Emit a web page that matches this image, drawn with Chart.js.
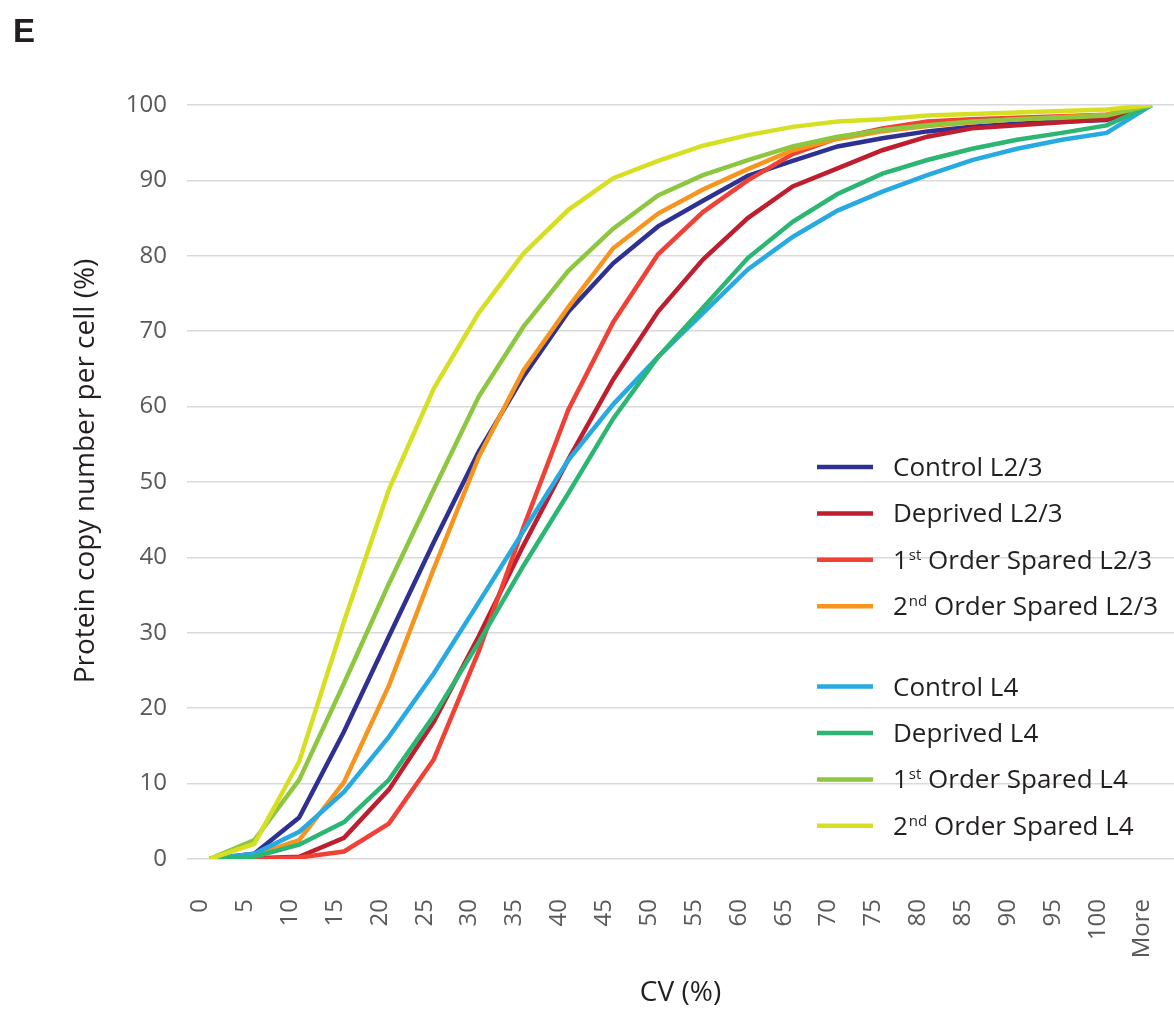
<!DOCTYPE html>
<html>
<head>
<meta charset="utf-8">
<script src="https://cdn.jsdelivr.net/npm/chart.js@4/dist/chart.umd.min.js"></script>
<style>
  html, body { margin: 0; padding: 0; background: #ffffff; }
  #wrap { position: relative; width: 1174px; height: 1013px; }
  canvas { display: block; }
</style>
</head>
<body>
<div id="wrap"><canvas id="c" width="1174" height="1013"></canvas></div>
<script>
// ---------- data ----------
const categories = ['0','5','10','15','20','25','30','35','40','45','50','55','60','65','70','75','80','85','90','95','100','More'];

const controlL23   = [0, 0.7, 5.5, 16.9, 29.5, 42.0, 54.0, 64.0, 72.6, 79.0, 83.9, 87.3, 90.6, 92.6, 94.5, 95.6, 96.5, 97.1, 97.5, 97.8, 98.0, 100];
const deprivedL23  = [0, 0.1, 0.3, 2.8, 9.2, 18.2, 29.5, 41.6, 53.0, 63.6, 72.6, 79.5, 85.0, 89.2, 91.6, 94.0, 95.8, 96.9, 97.3, 97.7, 98.1, 100];
const first23      = [0, 0.0, 0.2, 1.0, 4.7, 13.2, 27.5, 44.0, 59.6, 71.2, 80.2, 85.8, 90.0, 93.5, 95.6, 96.9, 97.8, 98.1, 98.3, 98.5, 98.7, 100];
const second23     = [0, 0.5, 2.5, 10.2, 23.0, 38.5, 53.3, 64.8, 73.2, 81.0, 85.6, 88.8, 91.5, 94.0, 95.5, 96.5, 97.2, 97.7, 98.1, 98.4, 98.7, 100];
const controlL4    = [0, 0.7, 3.6, 8.9, 16.2, 24.6, 34.0, 43.5, 52.9, 60.3, 66.6, 72.4, 78.2, 82.5, 86.0, 88.5, 90.7, 92.7, 94.2, 95.4, 96.3, 100];
const deprivedL4   = [0, 0.3, 1.9, 4.9, 10.5, 19.0, 28.7, 38.9, 48.5, 58.4, 66.6, 73.1, 79.7, 84.5, 88.2, 90.9, 92.7, 94.2, 95.4, 96.3, 97.3, 100];
const first4       = [0, 2.5, 10.5, 23.3, 36.5, 49.0, 61.3, 70.6, 78.0, 83.6, 88.0, 90.7, 92.7, 94.5, 95.8, 96.7, 97.3, 97.8, 98.1, 98.3, 98.6, 100];
const second4      = [0, 2.0, 12.9, 31.5, 49.0, 62.4, 72.4, 80.3, 86.1, 90.3, 92.6, 94.6, 96.0, 97.1, 97.8, 98.1, 98.6, 98.8, 99.0, 99.2, 99.4, 100];

const seriesLabels = ['Control L2/3', 'Deprived L2/3', '1st Order Spared L2/3', '2nd Order Spared L2/3',
                      'Control L4', 'Deprived L4', '1st Order Spared L4', '2nd Order Spared L4'];
const seriesValues = [controlL23, deprivedL23, first23, second23, controlL4, deprivedL4, first4, second4];
const seriesColors = ['#2e3192', '#be1e2d', '#ef4136', '#f7941d', '#27aae1', '#2bb673', '#8dc63f', '#d7df23'];

const yTicks = [0, 10, 20, 30, 40, 50, 60, 70, 80, 90, 100];
const xTitle = 'CV (%)';
const yTitle = 'Protein copy number per cell (%)';
const panelLetter = 'E';

// ---------- plugins ----------
const annotatePlugin = {
  id: 'annotate',
  afterDraw(chart) {
    const ctx = chart.ctx;
    ctx.save();
    // legend
    const lineX0 = 817, lineX1 = 873, textX = 893;
    chart.data.datasets.forEach((ds, i) => {
      const y = 467 + i * 46.4 + (i >= 4 ? 34 : 0);
      ctx.strokeStyle = ds.borderColor;
      ctx.lineWidth = 4.5;
      ctx.beginPath();
      ctx.moveTo(lineX0, y);
      ctx.lineTo(lineX1, y);
      ctx.stroke();
      ctx.fillStyle = '#231f20';
      ctx.textBaseline = 'alphabetic';
      ctx.textAlign = 'left';
      const base = y + 9;
      const m = ds.label.match(/^(\d)(st|nd|rd|th)(.*)$/);
      const mainFont = '26px "Open Sans"';
      const supFont = '15px "Open Sans"';
      if (m) {
        let x = textX;
        ctx.font = mainFont;
        ctx.fillText(m[1], x, base);
        x += ctx.measureText(m[1]).width + 1;
        ctx.font = supFont;
        ctx.fillText(m[2], x, base - 9);
        x += ctx.measureText(m[2]).width;
        ctx.font = mainFont;
        ctx.fillText(m[3], x, base);
      } else {
        ctx.font = mainFont;
        ctx.fillText(ds.label, textX, base);
      }
    });
    // y axis title
    ctx.save();
    ctx.translate(86, 471);
    ctx.rotate(-Math.PI / 2);
    ctx.font = '28px "Open Sans"';
    ctx.fillStyle = '#231f20';
    ctx.textAlign = 'center';
    ctx.textBaseline = 'middle';
    ctx.fillText(yTitle, 0, 0);
    ctx.restore();
    // panel letter
    ctx.font = 'bold 33px "Liberation Sans"';
    ctx.fillStyle = '#231f20';
    ctx.textAlign = 'left';
    ctx.textBaseline = 'alphabetic';
    ctx.fillText(panelLetter, 13, 42);
    ctx.restore();
  }
};

// ---------- chart ----------
const datasets = seriesLabels.map((lab, i) => ({
  label: lab,
  data: seriesValues[i],
  borderColor: seriesColors[i],
  backgroundColor: seriesColors[i],
  borderWidth: 4.5,
  pointRadius: 0,
  pointHoverRadius: 0,
  tension: 0,
  fill: false,
  order: seriesLabels.length - i
}));

new Chart(document.getElementById('c'), {
  type: 'line',
  data: { labels: categories, datasets: datasets },
  plugins: [annotatePlugin],
  options: {
    responsive: false,
    animation: false,
    events: [],
    layout: { padding: { left: 0, right: 0, top: 105, bottom: 0 } },
    plugins: { legend: { display: false }, tooltip: { enabled: false }, title: { display: false } },
    scales: {
      x: {
        type: 'category',
        offset: true,
        grid: { display: false, drawTicks: false },
        border: { display: false },
        ticks: {
          autoSkip: false,
          minRotation: 90,
          maxRotation: 90,
          padding: 40,
          labelOffset: -9,
          color: '#595959',
          font: { family: '"Open Sans"', size: 24 }
        },
        title: {
          display: true,
          text: xTitle,
          color: '#231f20',
          font: { family: '"Open Sans"', size: 28 },
          padding: { top: 0, bottom: 3 }
        },
        afterFit(scale) {
          scale.height = 1013 - 859;
          scale.paddingLeft = 0;
          scale.paddingRight = 0;
        }
      },
      y: {
        min: 0,
        max: 100,
        afterBuildTicks(scale) { scale.ticks = yTicks.map(v => ({ value: v })); },
        grid: { color: '#d9d9d9', lineWidth: 1.5, drawTicks: false },
        border: { display: false },
        ticks: {
          padding: 20,
          color: '#595959',
          font: { family: '"Open Sans"', size: 24 }
        },
        title: { display: false },
        afterFit(scale) {
          scale.width = 187;
          scale.paddingTop = 0;
          scale.paddingBottom = 0;
        }
      }
    }
  }
});
</script>
</body>
</html>
